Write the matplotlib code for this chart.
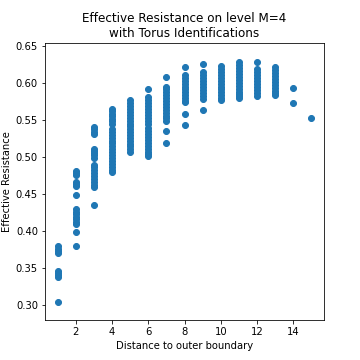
import numpy as np
import matplotlib
matplotlib.use("Agg")
import matplotlib.pyplot as plt

# -------------------------------
# DATA
# -------------------------------
distance = [1, 2, 3, 4, 5, 6, 7, 8, 9, 10, 11, 12, 13, 14, 15]

resistance = [
    # d = 1
    [0.379, 0.376, 0.373, 0.370, 0.346, 0.343, 0.340, 0.337, 0.3035],
    # d = 2
    [0.481, 0.478, 0.476, 0.466, 0.463, 0.461, 0.448, 0.430, 0.426, 0.423,
     0.419, 0.416, 0.412, 0.409, 0.399, 0.379],
    # d = 3
    [0.540, 0.537, 0.534, 0.531, 0.511, 0.508, 0.505, 0.502, 0.499, 0.489,
     0.486, 0.482, 0.478, 0.474, 0.470, 0.466, 0.462, 0.459, 0.4355],
    # d = 4
    [0.565, 0.562, 0.558, 0.555, 0.551, 0.548, 0.545, 0.538, 0.534, 0.530,
     0.526, 0.522, 0.518, 0.514, 0.510, 0.506, 0.502, 0.498, 0.494, 0.490,
     0.486, 0.482, 0.479],
    # d = 5
    [0.577, 0.573, 0.569, 0.565, 0.561, 0.557, 0.553, 0.549, 0.545, 0.541,
     0.537, 0.533, 0.529, 0.525, 0.521, 0.517, 0.514, 0.511, 0.506],
    # d = 6
    [0.591, 0.581, 0.577, 0.573, 0.569, 0.565, 0.561, 0.557, 0.553, 0.549,
     0.545, 0.539, 0.535, 0.531, 0.527, 0.523, 0.519, 0.515, 0.511, 0.507,
     0.504, 0.501],
    # d = 7
    [0.6085, 0.595, 0.591, 0.587, 0.583, 0.579, 0.575, 0.571, 0.567, 0.563,
     0.559, 0.555, 0.552, 0.549, 0.5355, 0.518],
    # d = 8
    [0.621, 0.611, 0.607, 0.603, 0.599, 0.595, 0.591, 0.587, 0.583, 0.579,
     0.576, 0.574, 0.558, 0.543],
    # d = 9
    [0.625, 0.614, 0.610, 0.606, 0.602, 0.598, 0.594, 0.590, 0.586, 0.582,
     0.578, 0.5635],
    # d = 10
    [0.623, 0.619, 0.615, 0.611, 0.607, 0.603, 0.599, 0.595, 0.591, 0.587,
     0.583, 0.580, 0.577],
    # d = 11
    [0.628, 0.624, 0.620, 0.616, 0.612, 0.608, 0.604, 0.600, 0.596, 0.592,
     0.588, 0.585, 0.582, 0.579],
    # d = 12
    [0.628, 0.618, 0.614, 0.610, 0.606, 0.602, 0.598, 0.594, 0.590, 0.586,
     0.582],
    # d = 13
    [0.621, 0.617, 0.613, 0.609, 0.605, 0.601, 0.597, 0.593, 0.589, 0.586,
     0.583],
    # d = 14
    [0.5936, 0.573],
    # d = 15
    [0.552],
]

x_ticks = [2, 4, 6, 8, 10, 12, 14]

# flatten into point lists
xs = []
ys = []
for d, vals in zip(distance, resistance):
    xs += [d] * len(vals)
    ys += vals

# -------------------------------
# PLOT
# -------------------------------
fig, ax = plt.subplots(figsize=(5, 5), dpi=72)
ax.scatter(xs, ys, color="#1f77b4")

ax.set_xticks(x_ticks)
ax.set_ylim(0.279, 0.6535)
ax.set_xlabel("Distance to outer boundary")
ax.set_ylabel("Effective Resistance")
ax.set_title("Effective Resistance on level M=4\nwith Torus Identifications")

fig.savefig("out.png", dpi=72)
